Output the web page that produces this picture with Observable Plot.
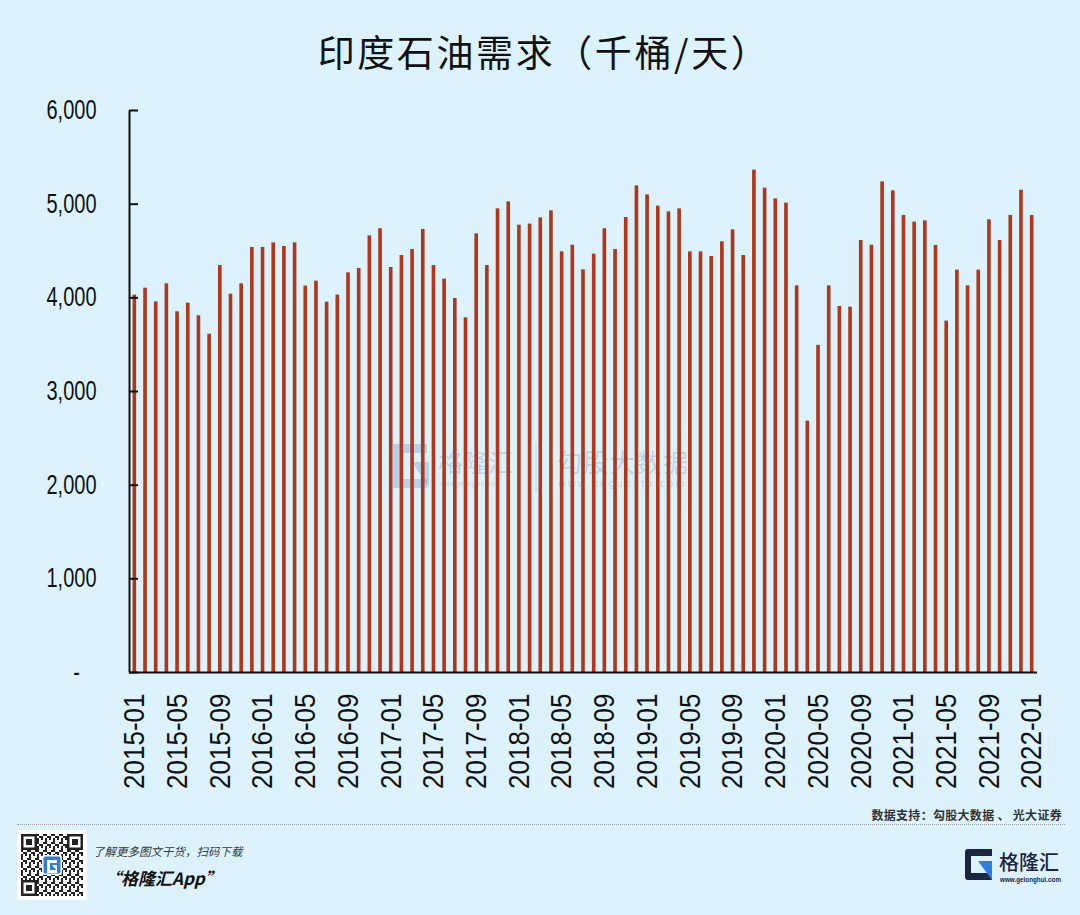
<!DOCTYPE html>
<html>
<head>
<meta charset="utf-8">
<script src="https://cdn.jsdelivr.net/npm/d3@7"></script>
<script src="https://cdn.jsdelivr.net/npm/@observablehq/plot@0.6"></script>
<style>
  html, body { margin: 0; padding: 0; background: #dcf3fd; }
  #page { position: relative; width: 1080px; height: 915px; background: #dcf3fd; overflow: hidden; font-family: "Noto Sans CJK SC", "Noto Sans", sans-serif; }
  #title { position: absolute; left: 10px; width: 1068px; top: 33px; text-align: center; font-size: 37px; letter-spacing: 2.6px; color: #111; line-height: 1; }
  #wm { position: absolute; left: 390px; top: 438px; width: 310px; height: 56px; z-index: 0; }
  #chart { position: absolute; left: 0; top: 0; z-index: 1; }
  #source { position: absolute; right: 18px; top: 806px; font-size: 12px; font-weight: 700; color: #333; letter-spacing: 0.3px; }
  #sep { position: absolute; left: 17px; top: 824px; width: 1048px; border-top: 1.5px dotted #9aa3aa; }
  #qr { position: absolute; left: 17px; top: 830px; width: 70px; height: 70px; }
  #l1 { position: absolute; left: 93px; top: 843px; font-size: 11.5px; font-style: italic; color: #3a3a3a; }
  #l2 { position: absolute; left: 104px; top: 865px; font-size: 17px; font-style: italic; font-weight: 700; color: #111; }
  #logo { position: absolute; left: 964px; top: 847px; width: 100px; height: 40px; }
</style>
</head>
<body>
<div id="page">
  <div id="title">印度石油需求（千桶/天）</div>
  <div id="wm">
    <svg width="310" height="56" viewBox="0 0 310 56">
      <g fill="rgba(95,135,195,0.30)">
        <path d="M3 6 h34 v9 h-25 v26 h25 v9 h-34 z"/>
        <path d="M22 24 h17 v26 z"/>
      </g>
      <text x="48" y="34" font-size="25" fill="rgba(95,135,195,0.30)" font-family="Noto Sans CJK SC">格隆汇</text>
      <text x="50" y="48" font-size="6.5" fill="rgba(95,135,195,0.30)" font-family="Liberation Sans">www.gelonghui.com</text>
      <line x1="146" y1="4" x2="146" y2="54" stroke="rgba(95,135,195,0.25)" stroke-width="1"/>
      <text x="167" y="34" font-size="25" fill="rgba(95,135,195,0.28)" font-family="Noto Sans CJK SC" letter-spacing="1.5">勾股大数据</text>
      <text x="168" y="49" font-size="10.5" fill="rgba(95,135,195,0.30)" font-family="Liberation Sans" letter-spacing="2.3">www.gogudata.com</text>
    </svg>
  </div>
  <div id="chart"></div>
  <div id="source">数据支持：勾股大数据 、 光大证券</div>
  <div id="sep"></div>
  <div id="qr">
    <svg width="70" height="70" viewBox="0 0 70 70">
      <defs>
        <pattern id="mod" width="8" height="8" patternUnits="userSpaceOnUse">
          <rect width="8" height="8" fill="#fff"/>
          <rect x="0" y="0" width="2" height="2" fill="#222"/>
          <rect x="4" y="0" width="2" height="4" fill="#222"/>
          <rect x="2" y="4" width="4" height="2" fill="#222"/>
          <rect x="6" y="6" width="2" height="2" fill="#222"/>
          <rect x="0" y="6" width="2" height="2" fill="#222"/>
        </pattern>
      </defs>
      <rect width="70" height="70" rx="3" fill="#fff"/>
      <rect x="4" y="4" width="62" height="62" fill="url(#mod)"/>
      <g>
        <rect x="4" y="4" width="16" height="16" fill="#222"/><rect x="6.5" y="6.5" width="11" height="11" fill="#fff"/><rect x="9" y="9" width="6" height="6" fill="#222"/>
        <rect x="50" y="4" width="16" height="16" fill="#222"/><rect x="52.5" y="6.5" width="11" height="11" fill="#fff"/><rect x="55" y="9" width="6" height="6" fill="#222"/>
        <rect x="4" y="50" width="16" height="16" fill="#222"/><rect x="6.5" y="52.5" width="11" height="11" fill="#fff"/><rect x="9" y="55" width="6" height="6" fill="#222"/>
      </g>
      <rect x="25" y="25" width="20" height="20" rx="2" fill="#fff"/>
      <rect x="26.5" y="26.5" width="17" height="17" rx="2" fill="#2f7de1"/>
      <path d="M30 30 h10 v3 h-7 v7 h7 v3 h-10 z" fill="#fff"/>
      <path d="M35 35 h5 v6 z" fill="#fff"/>
    </svg>
  </div>
  <div id="l1">了解更多图文干货，扫码下载</div>
  <div id="l2">“格隆汇App”</div>
  <div id="logo">
    <svg width="100" height="40" viewBox="0 0 100 40">
      <path d="M1 5 a3 3 0 0 1 3 -3 h24 v7 h-21 v17 h21 v7 h-24 a3 3 0 0 1 -3 -3 z" fill="#1c2540"/>
      <path d="M14 14 h14 v19 z" fill="#2f7de1"/>
      <text x="35" y="23" font-size="20" fill="#1c2540" font-family="Noto Sans CJK SC" font-weight="500">格隆汇</text>
      <text x="36" y="35" font-size="6.3" fill="#1c2540" font-family="Liberation Sans" font-weight="700">www.gelonghui.com</text>
    </svg>
  </div>
</div>
<script>
// ---- data ----
const startMonth = "2015-01";
const demand2015 = [4029, 4103, 3957, 4150, 3851, 3943, 3808, 3612, 4345, 4039, 4150, 4538];
const demand2016 = [4538, 4587, 4549, 4587, 4125, 4178, 3954, 4029, 4267, 4313, 4662, 4737];
const demand2017 = [4324, 4452, 4516, 4730, 4345, 4200, 3993, 3787, 4683, 4345, 4950, 5025];
const demand2018 = [4776, 4787, 4854, 4929, 4491, 4562, 4299, 4466, 4737, 4516, 4858, 5195];
const demand2019 = [5099, 4979, 4918, 4950, 4491, 4491, 4442, 4598, 4726, 4452, 5363, 5171];
const demand2020 = [5057, 5011, 4128, 2684, 3492, 4128, 3908, 3901, 4612, 4562, 5238, 5142];
const demand2021 = [4879, 4808, 4822, 4559, 3751, 4296, 4128, 4296, 4833, 4612, 4879, 5149];
const demand2022 = [4879];
const xTickLabels = ["2015-01","2015-05","2015-09","2016-01","2016-05","2016-09","2017-01","2017-05","2017-09",
  "2018-01","2018-05","2018-09","2019-01","2019-05","2019-09","2020-01","2020-05","2020-09",
  "2021-01","2021-05","2021-09","2022-01"];
const yTicks = [0, 1000, 2000, 3000, 4000, 5000, 6000];

const values = [].concat(demand2015, demand2016, demand2017, demand2018, demand2019, demand2020, demand2021, demand2022);
const fmtMonth = d3.utcFormat("%Y-%m");
const start = d3.utcParse("%Y-%m")(startMonth);
const months = values.map((_, i) => fmtMonth(d3.utcMonth.offset(start, i)));
const data = values.map((v, i) => ({month: months[i], value: v}));

const W = 1080, H = 800, mT = 110, mB = 128, mL = 129, mR = 43;
const fw = W - mL - mR, fh = H - mT - mB;

const chart = Plot.plot({
  width: W,
  height: H,
  marginTop: mT,
  marginBottom: mB,
  marginLeft: mL,
  marginRight: mR,
  style: {background: "transparent", fontFamily: "'Liberation Sans', Arial, sans-serif", color: "#111", overflow: "visible"},
  x: {type: "band", domain: months, paddingInner: 0.66, paddingOuter: 0.33, label: null},
  y: {domain: [0, 6000], label: null},
  marks: [
    Plot.barY(data, {x: "month", y: "value", fill: "#b3361a"}),
    // left axis line only: dash pattern skips top, right, bottom edges of the frame
    Plot.frame({stroke: "#111", strokeWidth: 2, strokeDasharray: `0 ${2 * fw + fh} ${fh} 0`}),
    Plot.ruleY([0], {stroke: "#111", strokeWidth: 2.2}),
    Plot.axisY({ticks: yTicks, tickSize: -9, tickPadding: 42, strokeWidth: 2, fontSize: 20, label: null,
      tickFormat: d => d === 0 ? "-\u00a0\u00a0\u00a0" : d3.format(",")(d)}),
    Plot.axisX({ticks: xTickLabels, tickSize: 0, tickRotate: -90, tickPadding: 21, fontSize: 26, label: null})
  ]
});
document.getElementById("chart").appendChild(chart);

// stretch tick label glyphs to match the reference's taller lettering
chart.querySelectorAll('g[aria-label="y-axis tick label"] text').forEach(t => {
  const tr = t.getAttribute("transform") || "";
  t.setAttribute("transform", tr + " scale(1,1.35)");
});
chart.querySelectorAll('g[aria-label="x-axis tick label"] text').forEach(t => {
  const tr = t.getAttribute("transform") || "";
  t.setAttribute("transform", tr + " scale(1,1.12)");
});
</script>
</body>
</html>
